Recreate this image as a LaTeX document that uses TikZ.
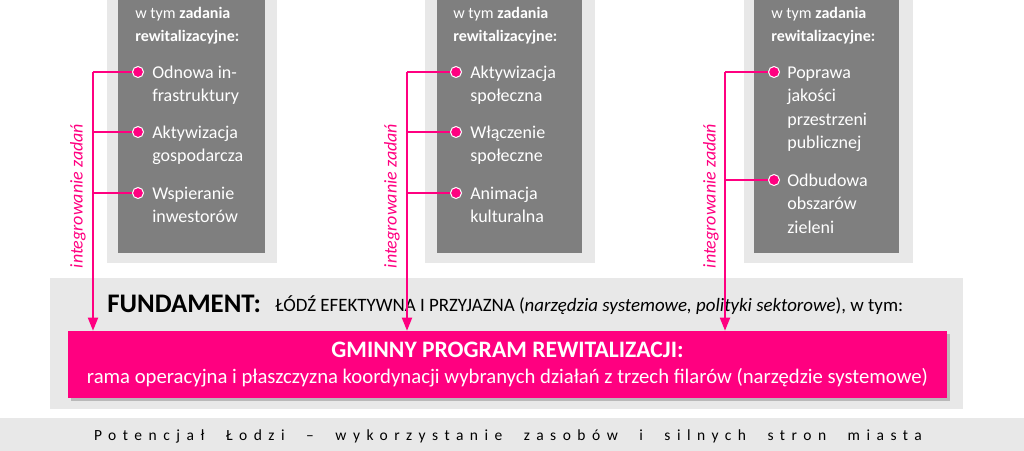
\documentclass[tikz,border=0pt]{standalone}
\usepackage{fontspec}
\setmainfont{Carlito}
\newfontfamily\spacedfont[LetterSpace=42,WordSpace=2.15]{Carlito}
\usetikzlibrary{arrows.meta,positioning,shadows}
\definecolor{lodzpink}{RGB}{255,0,128}
\definecolor{pillargray}{RGB}{127,127,127}
\definecolor{palegray}{RGB}{232,232,232}

\begin{document}
\begin{tikzpicture}[x=1pt,y=-1pt,>={Triangle[width=10pt,length=13pt]},
                    semithick]
  \tikzstyle{link}=[draw=lodzpink,line width=1.8pt]
  \tikzstyle{dot}=[circle,fill=lodzpink,draw=white,line width=1pt,
                   inner sep=0pt,minimum size=11pt]
  % base west = baseline of the last line
  \tikzstyle{head}=[anchor=base west,inner sep=0pt,align=left,text=white,
                    font=\fontsize{16}{23}\selectfont]
  \tikzstyle{item}=[anchor=base west,inner sep=0pt,align=left,text=white,
                    font=\fontsize{18}{23.5}\selectfont]
  \tikzstyle{integr}=[rotate=90,text=lodzpink,
                      font=\fontsize{18}{20}\selectfont\itshape]

  \useasboundingbox (0,0) rectangle (1024,450);

  % filary
  \fill[palegray] (107,0) rectangle (277,263);
  \fill[pillargray] (118,0) rectangle (265,253);
  \fill[palegray] (425,0) rectangle (595,263);
  \fill[pillargray] (437,0) rectangle (582,253);
  \fill[palegray] (744,0) rectangle (913,263);
  \fill[pillargray] (754,0) rectangle (899,253);

  \node[head] (h1) at (135,41) {w tym \textbf{zadania}\\\textbf{rewitalizacyjne:}};
  \node[head] (h2) at (453,41) {w tym \textbf{zadania}\\\textbf{rewitalizacyjne:}};
  \node[head] (h3) at (771,41) {w tym \textbf{zadania}\\\textbf{rewitalizacyjne:}};

  \node[dot] (d11) at (138,72) {};
  \node[dot] (d12) at (138,132) {};
  \node[dot] (d13) at (138,193) {};
  \node[item] (t11) at (152,101.5) {Odnowa in-\\frastruktury};
  \node[item] (t12) at (152,161.5) {Aktywizacja\\gospodarcza};
  \node[item] (t13) at (152,222.5) {Wspieranie\\inwestorów};

  \node[dot] (d21) at (456,72) {};
  \node[dot] (d22) at (456,132) {};
  \node[dot] (d23) at (456,193) {};
  \node[item] (t21) at (470,101.5) {Aktywizacja\\społeczna};
  \node[item] (t22) at (470,161.5) {Włączenie\\społeczne};
  \node[item] (t23) at (470,222.5) {Animacja\\kulturalna};

  \node[dot] (d31) at (774,72) {};
  \node[dot] (d32) at (774,180) {};
  \node[item] (t31) at (787,148.5) {Poprawa\\jakości\\przestrzeni\\publicznej};
  \node[item] (t32) at (787,233) {Odbudowa\\obszarów\\zieleni};

  % fundament
  \node[fill=palegray,minimum width=913pt,minimum height=131pt,inner sep=0pt]
       (fund) at (506.5,343.5) {};
  \node[anchor=west,inner sep=0pt,font=\fontsize{26.8}{28}\selectfont\bfseries]
       (fundlbl) at (107,304) {FUNDAMENT:};
  \node[anchor=base west,inner sep=0pt,font=\fontsize{18.9}{22}\selectfont]
       (fundtxt) at (275,311) {ŁÓDŹ EFEKTYWNA I PRZYJAZNA (\textit{narzędzia systemowe, polityki sektorowe}), w tym:};
  \node[fill=lodzpink,text=white,align=center,inner sep=0pt,
        minimum width=879pt,minimum height=67pt,
        font=\fontsize{20.7}{26}\selectfont,
        drop shadow={shadow xshift=3pt,shadow yshift=-3pt,opacity=.45}]
       (gpr) at (507.5,364.5)
       {{\fontsize{23.6}{26}\selectfont\bfseries GMINNY PROGRAM REWITALIZACJI:}\\
        rama operacyjna i płaszczyzna koordynacji wybranych działań z trzech filarów (narzędzie systemowe)};

  % potencjal
  \node[fill=palegray,minimum width=1024pt,minimum height=34pt,inner sep=0pt]
       (base) at (512,435) {};
  \node[font=\fontsize{15.5}{18}\spacedfont]
       (basetxt) at (508,436) {Potencjał Łodzi – wykorzystanie zasobów i silnych stron miasta};

  % integrowanie zadan
  \coordinate (v1) at (93,72);
  \coordinate (v2) at (407,72);
  \coordinate (v3) at (725,72);
  \draw[link] (d11) -- (v1);
  \draw[link] (d12) -- (d12 -| v1);
  \draw[link] (d13) -- (d13 -| v1);
  \draw[link] (d21) -- (v2);
  \draw[link] (d22) -- (d22 -| v2);
  \draw[link] (d23) -- (d23 -| v2);
  \draw[link] (d31) -- (v3);
  \draw[link] (d32) -- (d32 -| v3);
  \draw[link,->] (v1) -- (v1 |- gpr.north);
  \draw[link,->] (v2) -- (v2 |- gpr.north);
  \draw[link,->] (v3) -- (v3 |- gpr.north);
  \node[integr] (i1) at (78,196) {integrowanie zadań};
  \node[integr] (i2) at (392,196) {integrowanie zadań};
  \node[integr] (i3) at (711,196) {integrowanie zadań};
\end{tikzpicture}
\end{document}
